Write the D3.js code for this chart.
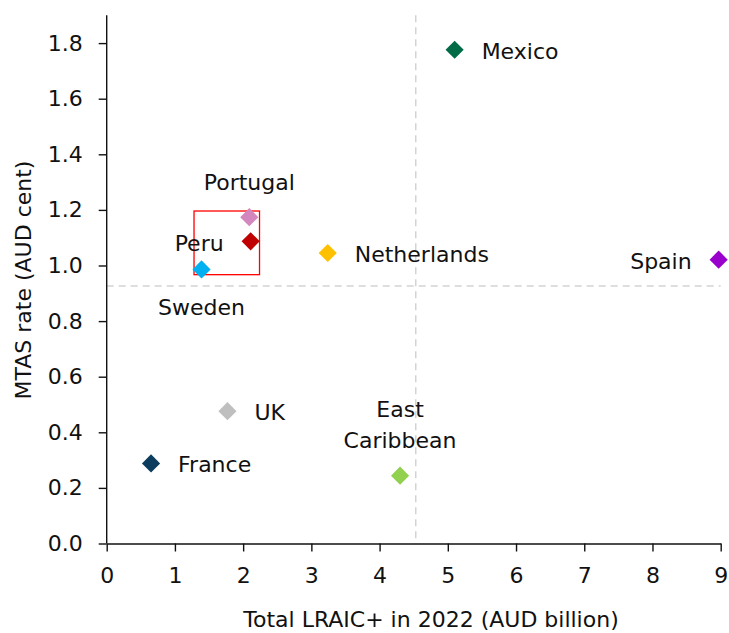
<!DOCTYPE html>
<html>
<head>
<meta charset="utf-8">
<script src="https://cdn.jsdelivr.net/npm/d3@7"></script>
<style>
  html, body { margin: 0; padding: 0; background: #fff; }
  svg { display: block; }
  text { font-family: "DejaVu Sans", sans-serif; fill: #111; }
</style>
</head>
<body>
<svg id="chart" width="729" height="633"></svg>
<script>
// Country scatter: total LRAIC+ cost vs MTAS rate
const countries = ["France", "UK", "Sweden", "Portugal", "Peru", "Netherlands", "East Caribbean", "Mexico", "Spain"];
const lraicBillion = [0.65, 1.77, 1.39, 2.09, 2.11, 3.24, 4.30, 5.10, 8.97];
const mtasCent = [0.288, 0.476, 0.986, 1.174, 1.087, 1.045, 0.244, 1.776, 1.021];
const pointColors = ["#0B3C5D", "#BFBFBF", "#00B0F0", "#D486BE", "#C00000", "#FFC000", "#92D050", "#006B47", "#9900CC"];

// Reference (average) lines and highlighted cluster
const refX = 4.53;
const refY = 0.926;
const boxX = [1.28, 2.24];
const boxY = [0.967, 1.196];

const xTicks = [0, 1, 2, 3, 4, 5, 6, 7, 8, 9];
const yTicks = [0, 0.2, 0.4, 0.6, 0.8, 1.0, 1.2, 1.4, 1.6, 1.8];
const xTitle = "Total LRAIC+ in 2022 (AUD billion)";
const yTitle = "MTAS rate (AUD cent)";

// Label placement relative to each marker (pixels)
const labelPlacement = {
  "France":         { anchor: "start",  dx: 27,  dy: [9] },
  "UK":             { anchor: "start",  dx: 27,  dy: [9] },
  "Sweden":         { anchor: "middle", dx: 0,   dy: [46] },
  "Portugal":       { anchor: "middle", dx: 0,   dy: [-27.5] },
  "Peru":           { anchor: "end",    dx: -27, dy: [9.5] },
  "Netherlands":    { anchor: "start",  dx: 27,  dy: [9] },
  "East Caribbean": { anchor: "middle", dx: 0,   dy: [-58.5, -27.5] },
  "Mexico":         { anchor: "start",  dx: 27,  dy: [9] },
  "Spain":          { anchor: "end",    dx: -27, dy: [9] }
};

const W = 729, H = 633;
const margin = { top: 15.3, right: 8.3, bottom: 89.5, left: 106.7 };
const svg = d3.select("#chart");

const x = d3.scaleLinear().domain([0, 9]).range([margin.left, W - margin.right]);
const y = d3.scaleLinear().domain([0, 1.9]).range([H - margin.bottom, margin.top]);

// Dashed reference lines
const refG = svg.append("g")
  .attr("stroke", "#D3D3D3")
  .attr("stroke-width", 1.5)
  .attr("stroke-dasharray", "7,5");
refG.append("line")
  .attr("x1", x(0)).attr("x2", x(9))
  .attr("y1", y(refY)).attr("y2", y(refY));
refG.append("line")
  .attr("x1", x(refX)).attr("x2", x(refX))
  .attr("y1", y(1.9)).attr("y2", y(0));

// Axes
const xAxis = svg.append("g")
  .attr("transform", `translate(0,${y(0)})`)
  .call(d3.axisBottom(x).tickValues(xTicks).tickFormat(d3.format("d"))
    .tickSize(8).tickSizeOuter(0).tickPadding(16));
const yAxis = svg.append("g")
  .attr("transform", `translate(${x(0)},0)`)
  .call(d3.axisLeft(y).tickValues(yTicks).tickFormat(d3.format(".1f"))
    .tickSize(8).tickSizeOuter(0).tickPadding(16));

[xAxis, yAxis].forEach(g => {
  g.selectAll("path, line").attr("stroke", "#111").attr("stroke-width", 1.4);
  g.selectAll("text")
    .attr("fill", "#111")
    .style("font-family", "'DejaVu Sans', sans-serif")
    .style("font-size", "22px");
});
// extend y axis line to top of range
yAxis.select("path.domain").attr("d", `M0,${y(0)}V${y(1.9)}`);

// Highlight box around the clustered countries
svg.append("rect")
  .attr("x", x(boxX[0]))
  .attr("y", y(boxY[1]))
  .attr("width", x(boxX[1]) - x(boxX[0]))
  .attr("height", y(boxY[0]) - y(boxY[1]))
  .attr("fill", "none")
  .attr("stroke", "#FF0000")
  .attr("stroke-width", 1.3);

// Diamond markers
const diamond = d3.symbol().type(d3.symbolSquare).size(165);
const pts = countries.map((c, i) => ({ name: c, x: lraicBillion[i], y: mtasCent[i], color: pointColors[i] }));

svg.append("g").selectAll("path")
  .data(pts)
  .join("path")
  .attr("d", diamond)
  .attr("transform", d => `translate(${x(d.x)},${y(d.y)}) rotate(45)`)
  .attr("fill", d => d.color);

// Country labels
const labelG = svg.append("g").style("font-size", "22px");
pts.forEach(d => {
  const p = labelPlacement[d.name];
  const lines = d.name === "East Caribbean" ? ["East", "Caribbean"] : [d.name];
  lines.forEach((ln, k) => {
    labelG.append("text")
      .attr("x", x(d.x) + p.dx)
      .attr("y", y(d.y) + p.dy[k])
      .attr("text-anchor", p.anchor)
      .text(ln);
  });
});

// Axis titles
svg.append("text")
  .attr("x", 431)
  .attr("y", 627)
  .attr("text-anchor", "middle")
  .style("font-size", "22px")
  .text(xTitle);

svg.append("text")
  .attr("transform", `translate(31,${280}) rotate(-90)`)
  .attr("text-anchor", "middle")
  .style("font-size", "22px")
  .text(yTitle);
</script>
</body>
</html>
